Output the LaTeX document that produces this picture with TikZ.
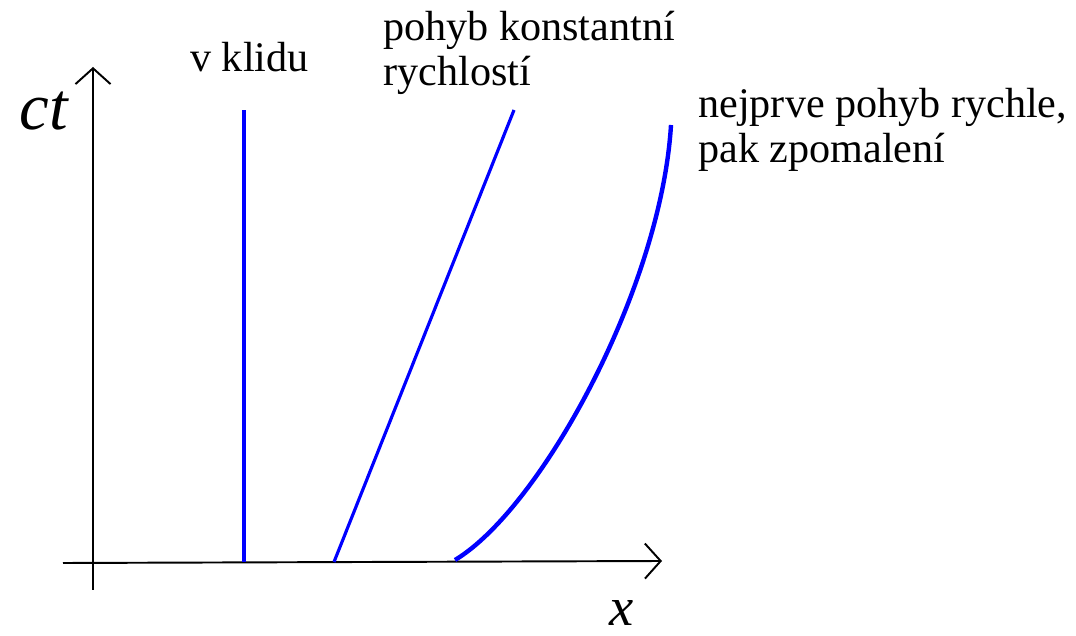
\documentclass[tikz,border=0pt]{standalone}
\usepackage{fontspec}
\setmainfont{Liberation Serif}
\usetikzlibrary{arrows.meta,positioning}

\tikzset{
  axis/.style={line width=1.1pt,-{Straight Barb[length=9pt,width=20pt,line width=1.1pt]}},
  worldline/.style={blue,line width=1.8pt},
  lbl/.style={inner sep=0pt,align=left,font=\fontsize{24}{25.5}\selectfont},
  axlbl/.style={inner sep=0pt,font=\fontsize{38}{40}\selectfont\itshape}
}

\begin{document}
\begin{tikzpicture}[x=0.02cm,y=0.02cm]
\useasboundingbox (0,0) rectangle (1076,636);

% Axes
\coordinate (ybot) at (93,46);
\coordinate (ytop) at (93,569);
\coordinate (xleft) at (63,73);
\coordinate (xright) at (662,75);
\draw[axis] (ybot) -- (ytop);
\draw[axis] (xleft) -- (xright);
\node[axlbl] (ct) at (44,525) {ct};
\node[axlbl,font=\fontsize{31}{34}\selectfont\itshape] (x) at (622,23) {x};

% At rest
\coordinate (rest0) at (244,74);
\coordinate (rest1) at (244,526);
\draw[worldline] (rest0) -- (rest1);
\node[lbl,anchor=base west] (restlbl) at (190,564) {v klidu};

% Constant velocity
\coordinate (const0) at (334,74);
\coordinate (const1) at (514,526);
\draw[worldline] (const0) -- (const1);
\node[lbl,anchor=north west] (constlbl) at (383,625) {pohyb konstantní\\rychlostí};

% Fast, then slowing down
\coordinate (slow0) at (455,76);
\coordinate (slow1) at (671,511);
\draw[worldline,line width=2.5pt] (slow0) .. controls (540,127) and (661,346) .. (slow1);
\node[lbl,anchor=north west] (slowlbl) at (698,548) {nejprve pohyb rychle,\\pak zpomalení};
\end{tikzpicture}
\end{document}
